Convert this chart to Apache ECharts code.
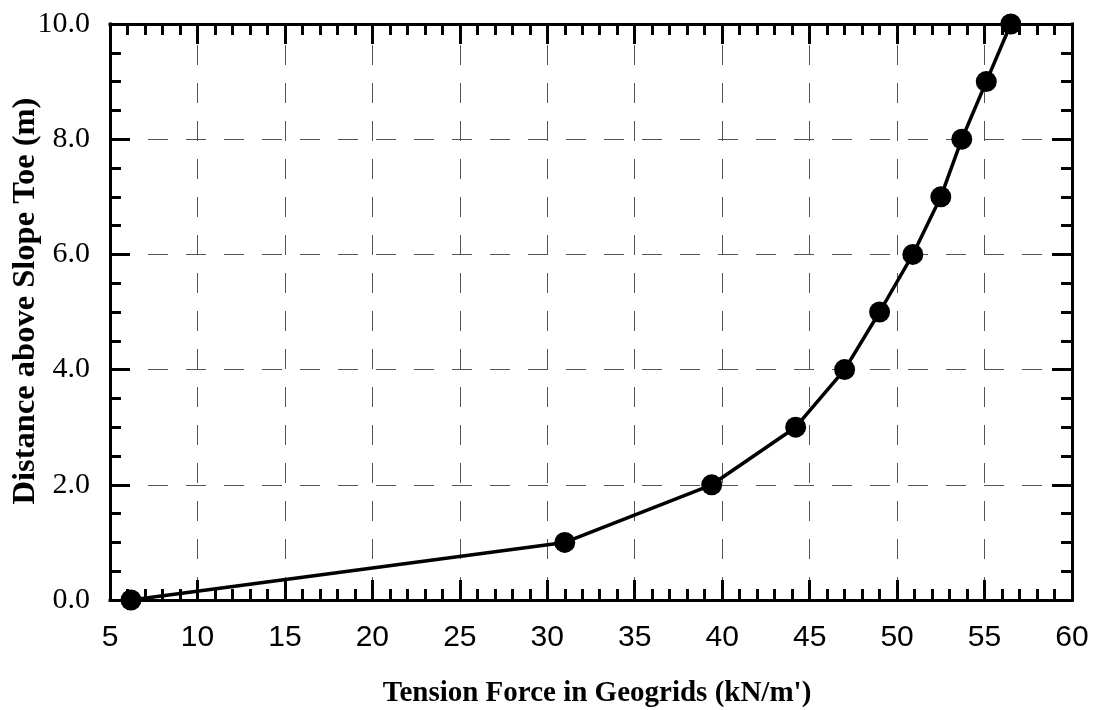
<!DOCTYPE html>
<html>
<head>
<meta charset="utf-8">
<script src="https://cdn.jsdelivr.net/npm/echarts@6/dist/echarts.min.js"></script>
<style>
  html, body { margin: 0; padding: 0; background: #ffffff; }
  #chart { width: 1097px; height: 710px; }
</style>
</head>
<body>
<div id="chart"></div>
<script>
// Tension force in each geogrid layer vs. height above the slope toe
const tensionForce = [6.2, 31.0, 39.4, 44.2, 47.0, 49.0, 50.9, 52.5, 53.7, 55.1, 56.5];
const heightAboveToe = [0, 1, 2, 3, 4, 5, 6, 7, 8, 9, 10];

const xTitle = "Tension Force in Geogrids (kN/m')";
const yTitle = 'Distance above Slope Toe (m)';

const points = tensionForce.map((f, i) => [f, heightAboveToe[i]]);

const frameLine = { show: true, onZero: false, lineStyle: { color: '#000', width: 3, cap: 'square' } };
const majorTick = { show: true, inside: true, length: 20, lineStyle: { color: '#000', width: 3 } };
const minorTickStyle = { color: '#000', width: 3 };
const gridDash = { color: '#555', width: 1, type: [20, 18] };

const chart = echarts.init(document.getElementById('chart'));
chart.setOption({
  backgroundColor: '#ffffff',
  animation: false,
  grid: { left: 110, right: 25, top: 24, bottom: 110, containLabel: false, outerBoundsMode: 'none' },
  xAxis: [
    {
      type: 'value', position: 'bottom', min: 5, max: 60, interval: 5,
      axisLine: frameLine,
      axisTick: majorTick,
      minorTick: { show: true, splitNumber: 5, length: 11, lineStyle: minorTickStyle },
      splitLine: { show: true, lineStyle: Object.assign({ dashOffset: 17 }, gridDash) },
      axisLabel: { fontFamily: 'Liberation Sans', fontSize: 30, color: '#000', margin: 23 },
      name: xTitle, nameLocation: 'middle', nameGap: 79, nameMoveOverlap: false,
      nameTextStyle: {
        fontFamily: 'Liberation Serif', fontWeight: 'bold', fontSize: 29, color: '#000',
        padding: [0, 0, 0, 12]
      }
    },
    {
      type: 'value', position: 'top', min: 5, max: 60, interval: 5,
      axisLine: frameLine,
      axisTick: majorTick,
      minorTick: { show: true, splitNumber: 5, length: 11, lineStyle: minorTickStyle },
      splitLine: { show: false },
      axisLabel: { show: false }
    }
  ],
  yAxis: [
    {
      type: 'value', position: 'left', min: 0, max: 10, interval: 2,
      axisLine: frameLine,
      axisTick: majorTick,
      minorTick: { show: true, splitNumber: 4, length: 11, lineStyle: minorTickStyle },
      splitLine: { show: true, lineStyle: gridDash },
      axisLabel: {
        fontFamily: 'Liberation Serif', fontSize: 30, color: '#000', margin: 20,
        formatter: v => v.toFixed(1)
      },
      name: yTitle, nameLocation: 'middle', nameGap: 68, nameRotate: 90, nameMoveOverlap: false,
      nameTextStyle: {
        fontFamily: 'Liberation Serif', fontWeight: 'bold', fontSize: 32.5, color: '#000',
        padding: [0, 0, 0, 22]
      }
    },
    {
      type: 'value', position: 'right', min: 0, max: 10, interval: 2,
      axisLine: frameLine,
      axisTick: majorTick,
      minorTick: { show: true, splitNumber: 4, length: 11, lineStyle: minorTickStyle },
      splitLine: { show: false },
      axisLabel: { show: false }
    }
  ],
  series: [
    {
      type: 'line',
      xAxisIndex: 0, yAxisIndex: 0,
      data: points,
      clip: false,
      symbol: 'circle',
      symbolSize: 21,
      lineStyle: { color: '#000', width: 3.5 },
      itemStyle: { color: '#000' },
      z: 5
    }
  ]
});
</script>
</body>
</html>
